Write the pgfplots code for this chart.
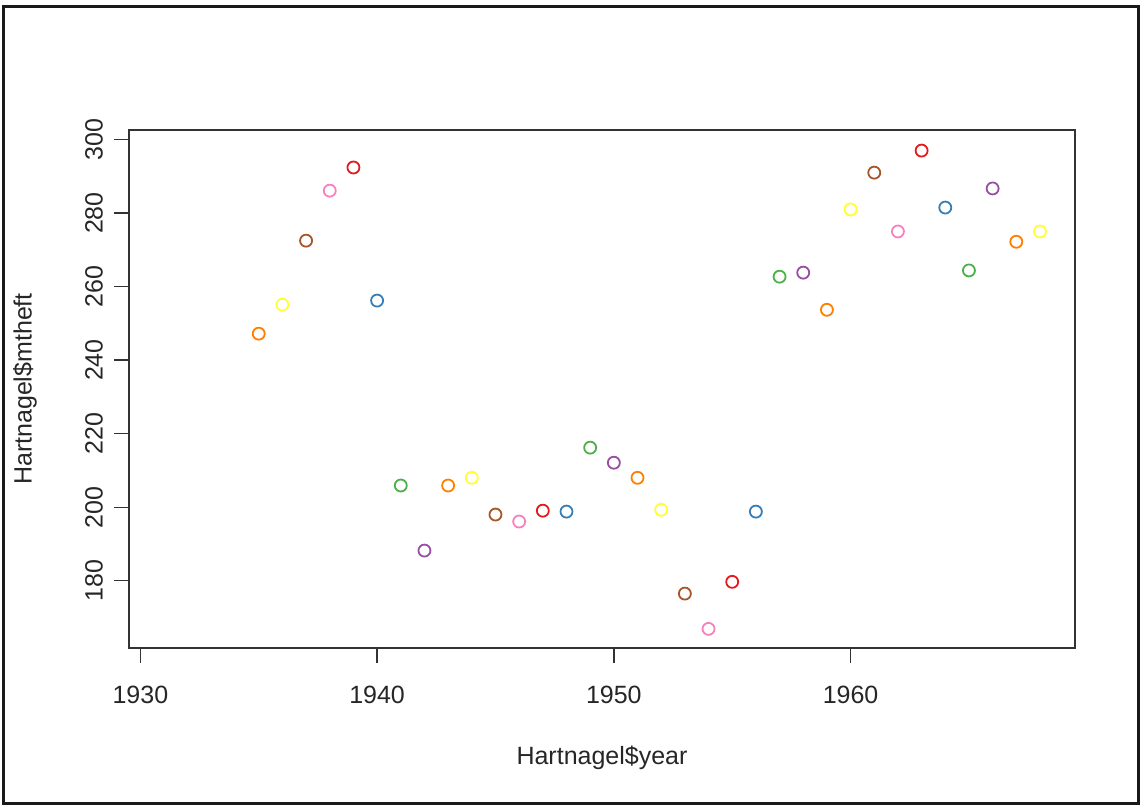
\documentclass[border=0pt]{standalone}
\usepackage{pgfplots}
\pgfplotsset{compat=1.18}
\usepackage{pgfplotstable}
\usepackage{fontspec}
\setmainfont{Liberation Sans}
\definecolor{c1}{HTML}{E41A1C}
\definecolor{c2}{HTML}{377EB8}
\definecolor{c3}{HTML}{4DAF4A}
\definecolor{c4}{HTML}{984EA3}
\definecolor{c5}{HTML}{FF7F00}
\definecolor{c6}{HTML}{FFFF33}
\definecolor{c7}{HTML}{A65628}
\definecolor{c8}{HTML}{F781BF}
\pgfplotstableread{
year mtheft cls
1935 247.2 e
1936 255.1 f
1937 272.5 g
1938 286.1 h
1939 292.4 a
1940 256.2 b
1941 205.9 c
1942 188.2 d
1943 205.9 e
1944 208.0 f
1945 198.0 g
1946 196.1 h
1947 199.05 a
1948 198.8 b
1949 216.2 c
1950 212.1 d
1951 208.0 e
1952 199.3 f
1953 176.5 g
1954 166.9 h
1955 179.7 a
1956 198.8 b
1957 262.7 c
1958 263.8 d
1959 253.7 e
1960 281.0 f
1961 291.0 g
1962 275.0 h
1963 297.0 a
1964 281.5 b
1965 264.4 c
1966 286.7 d
1967 272.2 e
1968 275.0 f
}\hart
\begin{document}
\begin{tikzpicture}
\begin{axis}[
  at={(0,0)}, anchor=south west,
  scale only axis,
  width=473pt, height=259pt,
  xmin=1929.52, xmax=1969.48,
  ymin=161.7, ymax=302.6,
  axis line style={line width=0.7pt, black!80},
  tick style={line width=0.7pt, black!80},
  tick align=outside,
  major tick length=7.5pt,
  xtick={1930,1940,1950,1960},
  ytick={180,200,220,240,260,280,300},
  xtick pos=bottom, ytick pos=left,
  /pgf/number format/assume math mode=true,
  /pgf/number format/1000 sep={},
  tick label style={font=\fontsize{12.5}{15}\selectfont, text=black!85},
  xticklabel style={yshift=-8pt},
  yticklabel style={rotate=90, yshift=2pt},
  label style={font=\fontsize{12.5}{15}\selectfont, text=black!85},
  xlabel={Hartnagel\$year},
  ylabel={Hartnagel\$mtheft},
  xlabel style={at={(rel axis cs:0.5,0)}, anchor=center, yshift=-55pt},
  ylabel style={at={(rel axis cs:0,0.5)}, anchor=center, yshift=52pt},
  clip=false,
]
\addplot[
  scatter, only marks, scatter src=explicit symbolic,
  mark size=3pt,
  every mark/.append style={line width=0.9pt},
  scatter/classes={
    a={mark=o,draw=c1},
    b={mark=o,draw=c2},
    c={mark=o,draw=c3},
    d={mark=o,draw=c4},
    e={mark=o,draw=c5},
    f={mark=o,draw=c6},
    g={mark=o,draw=c7},
    h={mark=o,draw=c8}}
] table[x=year, y=mtheft, meta=cls] {\hart};
\end{axis}
\draw[line width=1.5pt, black!90] (-62.5pt,-77.5pt) rectangle (504.5pt,321pt);
\pgfresetboundingbox
\path[use as bounding box] (-64.5pt,-78.5pt) rectangle (506pt,324pt);
\end{tikzpicture}
\end{document}
